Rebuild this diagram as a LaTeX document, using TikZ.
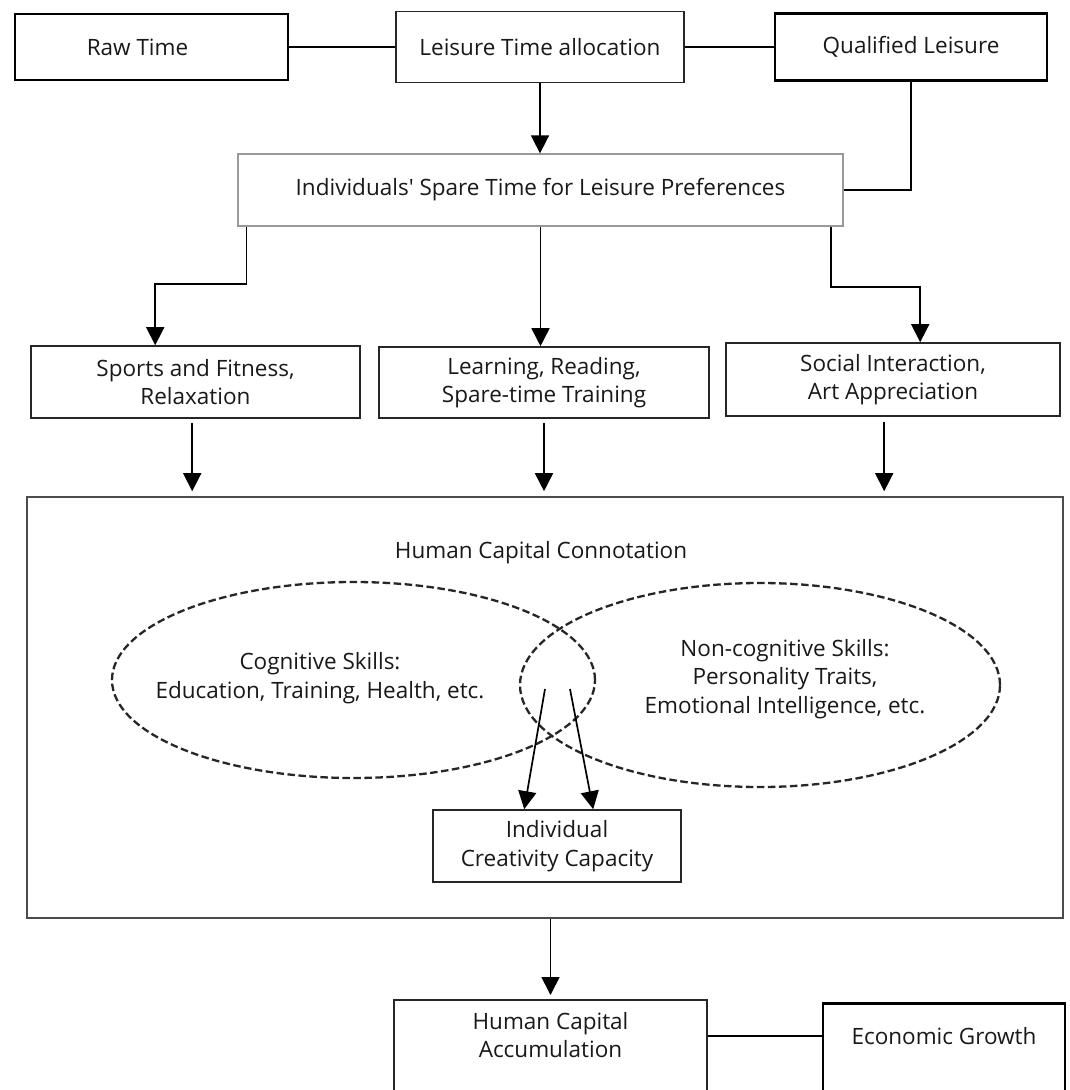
\documentclass[tikz,border=0pt]{standalone}
\usepackage{fontspec}
\setmainfont{Open Sans}[Ligatures=TeXOff]
\usetikzlibrary{arrows.meta,calc}
\begin{document}
\begin{tikzpicture}[x=1pt,y=-1pt,
  every node/.style={font=\fontsize{22.5}{28.5}\selectfont, text=black!90, align=center},
  box/.style={draw=black!85, line width=1.6pt, inner sep=0pt},
  thickbox/.style={draw=black, line width=2.8pt, inner sep=0pt},
  lightbox/.style={draw=black!40, line width=1.3pt, inner sep=0pt},
  link/.style={draw=black, line width=2.8pt},
  arr/.style={draw=black, line width=1.7pt, -{Triangle[width=18pt,length=18pt]}},
  dashell/.style={draw=black!85, line width=2.3pt, dash pattern=on 7.5pt off 3.5pt},
]
\useasboundingbox (0,0) rectangle (1070,1090);
\clip (0,0) rectangle (1070,1090);
\fill[white] (0,0) rectangle (1070,1090);

% top row
\node[thickbox, minimum width=273pt, minimum height=66pt] (raw) at (151.5,47) {\hspace*{-28pt}Raw Time};
\node[box, minimum width=288pt, minimum height=71pt] (lta) at (540,47) {Leisure Time allocation};
\node[thickbox, minimum width=272pt, minimum height=67pt] (ql) at (911,47) {Qualified Leisure};
\node[lightbox, minimum width=605pt, minimum height=72pt] (ind) at (540.5,190) {Individuals' Spare Time for Leisure Preferences};

% activities
\node[box, minimum width=329pt, minimum height=72pt] (spo) at (195.5,382) {Sports and Fitness,\\Relaxation};
\node[box, minimum width=330pt, minimum height=71pt] (lea) at (544,382.5) {Learning, Reading,\\Spare-time Training};
\node[box, minimum width=334pt, minimum height=73pt] (soc) at (893,379.5) {Social Interaction,\\Art Appreciation};

% big box
\node[box, draw=black!70, minimum width=1036pt, minimum height=421pt] (hcc) at (545,707.5) {};
\node (hcct) at (541,553) {Human Capital Connotation};
\draw[dashell] (353.5,680) ellipse [x radius=241.5pt, y radius=98pt];
\draw[dashell] (760,685) ellipse [x radius=240pt, y radius=102pt];
\node (cogt) at (320,678) {Cognitive Skills:\\Education, Training, Health, etc.};
\node (nct) at (785,679) {Non-cognitive Skills:\\Personality Traits,\\Emotional Intelligence, etc.};
\node[box, minimum width=248pt, minimum height=72pt] (cre) at (557,846) {Individual\\Creativity Capacity};

% bottom
\node[box, minimum width=313pt, minimum height=100pt, anchor=north] (acc) at (550.5,999) {};
\node (acct) at (550.5,1035) {Human Capital\\Accumulation};
\node[thickbox, minimum width=242pt, minimum height=100pt, anchor=north] (eco) at (944,1002) {};
\node (ecot) at (944,1036) {Economic Growth};

% connectors top
\draw[link] (raw) -- (lta);
\draw[link] (lta) -- (ql);
\draw[arr] (lta.south) -- (lta.south |- ind.north);
\draw[link] (ql.south) |- (ind.east);

% to activities
\path (ind.south west) ++(9,0) coordinate (il);
\path (spo.north west) ++(125,0) coordinate (sl);
\draw[arr] (il) -- ++(0,57) -| (sl);
\draw[arr] (ind.south) -- (ind.south |- lea.north);
\path (ind.south east) ++(-13,0) coordinate (ir);
\path (soc.north west) ++(195,0) coordinate (sr);
\draw[arr] (ir) -- ++(0,60) -| (sr);

% activities to big box
\path (spo.south west) ++(162,0) coordinate (sb);
\path (soc.south west) ++(159,0) coordinate (ob);
\draw[arr, shorten <=4pt, shorten >=5pt] (sb) -- (sb |- hcc.north);
\draw[arr, shorten <=4pt, shorten >=5pt] (lea.south) -- (lea.south |- hcc.north);
\draw[arr, shorten <=5pt, shorten >=5pt] (ob) -- (ob |- hcc.north);

% crossing arrows
\coordinate (s1) at (545,689);
\coordinate (s2) at (570,689);
\path (cre.north west) ++(92,0) coordinate (e1);
\path (cre.north west) ++(161,0) coordinate (e2);
\draw[arr] (s1) -- (e1);
\draw[arr] (s2) -- (e2);

% bottom connectors
\draw[arr, shorten >=4pt] (acc.north |- hcc.south) -- (acc.north);
\draw[link] (acc.east |- ecot) -- (eco.west |- ecot);
\end{tikzpicture}
\end{document}
